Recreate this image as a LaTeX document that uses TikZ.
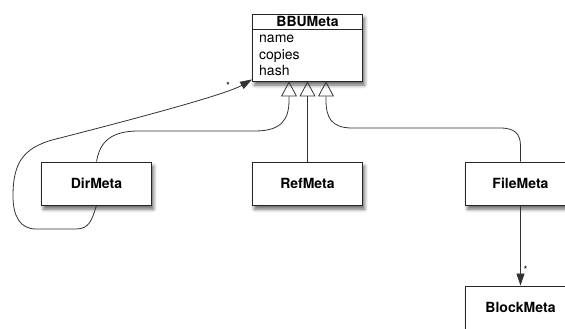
\documentclass[tikz,border=0pt]{standalone}
\usepackage{fontspec}
\setmainfont{TeX Gyre Heros}
\usetikzlibrary{arrows.meta,shadows.blur}

\begin{document}
\begin{tikzpicture}[x=1pt,y=-1pt,
  classbox/.style={draw=black!85, line width=0.9pt, fill=white,
    minimum width=110pt, minimum height=43pt, inner sep=0pt,
    font=\fontsize{14}{16.5}\selectfont\bfseries,
    blur shadow={shadow xshift=2pt, shadow yshift=-4pt,
      shadow blur radius=3.5pt, shadow opacity=60}},
  wire/.style={draw=black!80, line width=0.8pt},
  inherit/.style={wire, -{Triangle[open, length=15pt, width=16pt, line width=0.8pt]}},
  assoc/.style={wire, -{Triangle[length=12pt, width=8pt]}},
  mult/.style={font=\fontsize{10}{11}\selectfont, inner sep=0pt},
  attr/.style={anchor=base west, inner sep=0pt, font=\fontsize{14}{16.5}\selectfont},
]
\useasboundingbox (0,0) rectangle (565,329);
\clip (0,0) rectangle (565,329);

% classes
\node[classbox, minimum height=67pt] (bbu) at (307.5,47.5) {};
\node[anchor=base, inner sep=0pt, font=\fontsize{14}{16.5}\selectfont\bfseries] (bbutitle) at (307.5,26.5) {BBUMeta};
\draw[black!85, line width=0.9pt] ([yshift=-16pt]bbu.north west) -- ([yshift=-16pt]bbu.north east);
\node[attr] (aname) at (259,43) {name};
\node[attr] (acopies) at (259,59.5) {copies};
\node[attr] (ahash) at (259,76) {hash};

\node[classbox] (dir) at (96.5,183.5) {DirMeta};
\node[classbox] (ref) at (307.5,183.5) {RefMeta};
\node[classbox] (fil) at (520.5,183.5) {FileMeta};
\node[classbox] (blk) at (520.5,307.5) {BlockMeta};

% generalisations
\draw[inherit] (ref.north) -- (bbu.south);
\draw[inherit] (dir.north) .. controls (99,147) and (106,131) .. (138,131)
  -- (255,131) .. controls (282,131) and (289,119) .. (289,100)
  -- ([xshift=-18.5pt]bbu.south);
\draw[inherit] (fil.north) -- (520.5,146) .. controls (520.5,134) and (515,128) .. (500,128)
  -- (352,128) .. controls (331,128) and (326,117) .. (326,100)
  -- ([xshift=18.5pt]bbu.south);

% associations
\draw[assoc] (dir.south) .. controls (92,219) and (90,229) .. (76,229)
  -- (36,229) .. controls (20,229) and (13,216) .. (13,196)
  .. controls (13,160) and (25,146) .. (60,138)
  .. controls (130,120) and (225,95) .. ([yshift=2pt]bbu.south west);
\node[mult] (m1) at (228,85.5) {*};

\draw[assoc] (fil.south) -- (blk.north);
\node[mult] (m2) at (525.5,269.5) {*};
\end{tikzpicture}
\end{document}
